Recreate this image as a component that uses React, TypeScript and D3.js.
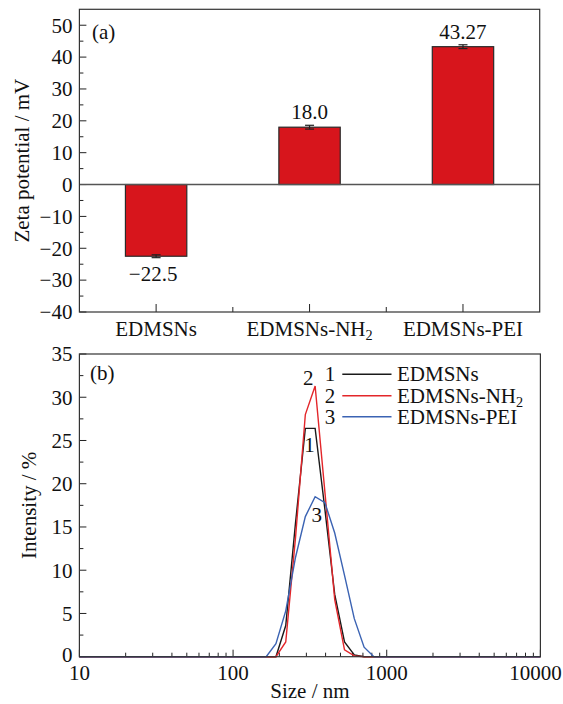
import React from "react";
import * as d3 from "d3";

// ---------- data ----------
const categories = ["EDMSNs", "EDMSNs-NH2", "EDMSNs-PEI"];
const zetaValues = [-22.5, 18.0, 43.27];
const zetaErrors = [0.45, 0.6, 0.6];
const zetaLabels = ["\u221222.5", "18.0", "43.27"];
const zetaTicks = [-40, -30, -20, -10, 0, 10, 20, 30, 40, 50];

const sizeNm = [10, 164.2, 190.1, 220.2, 255.0, 295.3, 342.0, 396.1, 458.7, 531.2, 615.1, 712.4, 825.0, 10000];
const intensityEDMSNs = [0, 0, 0, 3.6, 15.5, 26.4, 26.4, 17.0, 7.2, 1.7, 0.2, 0, 0, 0];
const intensityNH2 = [0, 0, 0, 1.7, 13.8, 28.0, 31.3, 19.0, 6.6, 0.8, 0.1, 0, 0, 0];
const intensityPEI = [0, 0, 1.5, 5.3, 11.5, 16.2, 18.5, 17.8, 14.3, 9.4, 4.4, 1.1, 0, 0];
const sizeTicks = [10, 100, 1000, 10000];
const intensityTicks = [0, 5, 10, 15, 20, 25, 30, 35];
const seriesNames = ["EDMSNs", "EDMSNs-NH2", "EDMSNs-PEI"];
const seriesNumbers = ["1", "2", "3"];
const seriesColors = ["#1a1a1a", "#e3262a", "#3b63b3"];

const FONT = "'Liberation Serif', 'Times New Roman', serif";
const FS = 21;

function withSub(name: string) {
  if (name.endsWith("NH2")) {
    return (
      <>
        {name.slice(0, -1)}
        <tspan fontSize={FS * 0.68} dy={4}>2</tspan>
      </>
    );
  }
  return name;
}

export default function App() {
  // panel A geometry
  const aL = 79.4, aR = 539.7, aT = 9.3, aB = 312;
  const yA = d3.scaleLinear().domain([-40, 55]).range([aB, aT]);
  const xA = d3.scaleBand<string>().domain(categories).range([aL, aR]).paddingInner(0.6).paddingOuter(0.3);
  const step = xA.step();
  const minorA = d3.range(-35, 55, 10);

  // panel B geometry
  const bL = 79.4, bR = 540.4, bT = 354, bB = 656.7;
  const xB = d3.scaleLog().domain([10, 10000]).range([bL, bR]);
  const yB = d3.scaleLinear().domain([0, 35]).range([bB, bT]);
  const minorBx: number[] = [];
  [10, 100, 1000].forEach((d) => {
    for (let k = 2; k <= 9; k++) minorBx.push(d * k);
  });
  const minorBy = d3.range(2.5, 35, 5);

  const line = d3
    .line<[number, number]>()
    .x((d) => xB(d[0]))
    .y((d) => yB(d[1]));
  const series = [intensityEDMSNs, intensityNH2, intensityPEI];

  const legendY = [374.3, 395.7, 416.7];

  return (
    <svg
      width={563}
      height={704}
      style={{ position: "absolute", left: 0, top: 0, background: "#fff" }}
      fontFamily={FONT}
      fontSize={FS}
    >
      <rect x={0} y={0} width={563} height={704} fill="#fff" />
      {/* ================= Panel A ================= */}
      {zetaTicks.map((t) => (
        <g key={"ya" + t}>
          <line x1={aL} x2={aL + 7} y1={yA(t)} y2={yA(t)} stroke="#222" strokeWidth={1} />
          <text x={aL - 7} y={yA(t)} dy="0.35em" textAnchor="end" fill="#111">
            {t < 0 ? "\u2212" + Math.abs(t) : t}
          </text>
        </g>
      ))}
      {minorA.map((t) => (
        <line key={"yam" + t} x1={aL} x2={aL + 4} y1={yA(t)} y2={yA(t)} stroke="#222" strokeWidth={1} />
      ))}
      {categories.map((c, i) => {
        const v = zetaValues[i];
        const x = xA(c)!;
        const w = xA.bandwidth();
        const y0 = yA(Math.max(0, v));
        const y1 = yA(Math.min(0, v));
        const cx = x + w / 2;
        const e = zetaErrors[i];
        return (
          <g key={"bar" + c}>
            <rect x={x} y={y0} width={w} height={y1 - y0} fill="#d7151c" stroke="#2a2a2a" strokeWidth={1.2} />
            <line x1={cx} x2={cx} y1={yA(v - e)} y2={yA(v + e)} stroke="#222" strokeWidth={1.2} />
            <line x1={cx - 4.5} x2={cx + 4.5} y1={yA(v - e)} y2={yA(v - e)} stroke="#222" strokeWidth={1.2} />
            <line x1={cx - 4.5} x2={cx + 4.5} y1={yA(v + e)} y2={yA(v + e)} stroke="#222" strokeWidth={1.2} />
            <text
              x={cx - (v < 0 ? 3 : 0)}
              y={v < 0 ? yA(v) + 25 : yA(v) - 8}
              textAnchor="middle"
              fill="#111"
            >
              {zetaLabels[i]}
            </text>
          </g>
        );
      })}
      <line x1={aL} x2={aR} y1={yA(0)} y2={yA(0)} stroke="#555" strokeWidth={1.6} />
      {categories.map((c) => {
        const cx = xA(c)! + xA.bandwidth() / 2;
        return (
          <g key={"xa" + c}>
            <line x1={cx} x2={cx} y1={aB} y2={aB - 8} stroke="#222" strokeWidth={1} />
            <text x={cx} y={aB + 24} textAnchor="middle" fill="#111">
              {withSub(c)}
            </text>
          </g>
        );
      })}
      {[1, 2].map((k) => (
        <line key={"xam" + k} x1={aL + k * step} x2={aL + k * step} y1={aB} y2={aB - 5} stroke="#222" strokeWidth={1} />
      ))}
      <rect x={aL} y={aT} width={aR - aL} height={aB - aT} fill="none" stroke="#333" strokeWidth={1.2} />
      <text x={92} y={39} fill="#111">(a)</text>
      <text
        transform={`translate(${29},${(aT + aB) / 2}) rotate(-90)`}
        textAnchor="middle"
        fill="#111"
      >
        Zeta potential / mV
      </text>

      {/* ================= Panel B ================= */}
      {intensityTicks.map((t) => (
        <g key={"yb" + t}>
          <line x1={bL} x2={bL + 7} y1={yB(t)} y2={yB(t)} stroke="#222" strokeWidth={1} />
          <text x={bL - 7} y={yB(t) - (t === 0 ? 2 : 0)} dy="0.35em" textAnchor="end" fill="#111">
            {t}
          </text>
        </g>
      ))}
      {minorBy.map((t) => (
        <line key={"ybm" + t} x1={bL} x2={bL + 4} y1={yB(t)} y2={yB(t)} stroke="#222" strokeWidth={1} />
      ))}
      {sizeTicks.map((t) => (
        <g key={"xb" + t}>
          <line x1={xB(t)} x2={xB(t)} y1={bB} y2={bB - 7} stroke="#222" strokeWidth={1} />
          <text
            x={t === 10000 ? xB(t) - 5 : xB(t)}
            y={bB + 23}
            textAnchor="middle"
            fill="#111"
          >
            {t}
          </text>
        </g>
      ))}
      {minorBx.map((t) => (
        <line key={"xbm" + t} x1={xB(t)} x2={xB(t)} y1={bB} y2={bB - 4} stroke="#222" strokeWidth={1} />
      ))}
      {series.map((s, i) => (
        <path
          key={"curve" + i}
          d={line(sizeNm.map((x, j) => [x, s[j]] as [number, number]))!}
          fill="none"
          stroke={seriesColors[i]}
          strokeWidth={1.4}
          strokeLinejoin="miter"
        />
      ))}
      <rect x={bL} y={bT} width={bR - bL} height={bB - bT} fill="none" stroke="#333" strokeWidth={1.2} />
      <text x={xB(342) - 7} y={yB(31.3) - 1} textAnchor="middle" fill="#111">2</text>
      <text x={xB(314)} y={yB(24.3) + 5} textAnchor="middle" fill="#111">1</text>
      <text x={xB(350)} y={yB(16.5) + 8} textAnchor="middle" fill="#111">3</text>
      {seriesNames.map((n, i) => (
        <g key={"leg" + n}>
          <text x={330} y={legendY[i]} dy="0.33em" textAnchor="middle" fill="#111">
            {seriesNumbers[i]}
          </text>
          <line x1={342.3} x2={391.5} y1={legendY[i]} y2={legendY[i]} stroke={seriesColors[i]} strokeWidth={1.4} />
          <text x={397} y={legendY[i]} dy="0.33em" fill="#111">
            {withSub(n)}
          </text>
        </g>
      ))}
      <text x={90} y={380} fill="#111">(b)</text>
      <text
        transform={`translate(${36},${(bT + bB) / 2}) rotate(-90)`}
        textAnchor="middle"
        fill="#111"
      >
        Intensity / %
      </text>
      <text x={(bL + bR) / 2} y={698} textAnchor="middle" fill="#111">
        Size / nm
      </text>
    </svg>
  );
}
